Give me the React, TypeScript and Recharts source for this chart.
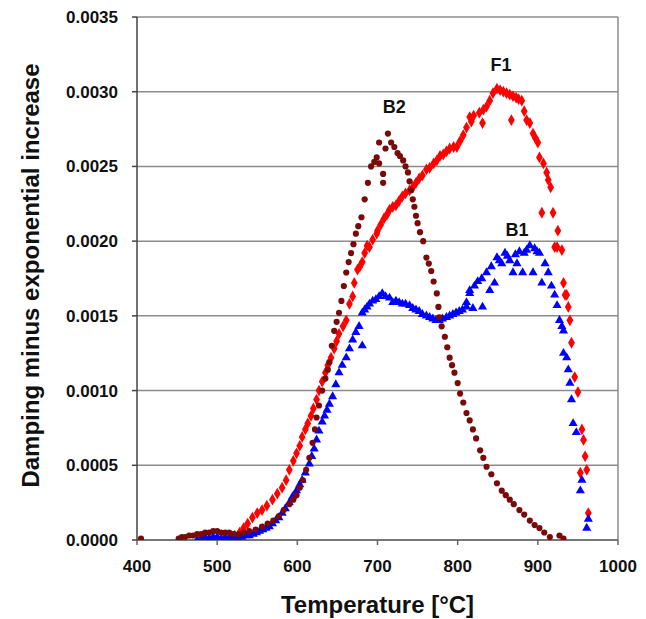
import {
  ScatterChart,
  Scatter,
  XAxis,
  YAxis,
  CartesianGrid,
  ReferenceLine,
  ReferenceDot,
  Label,
  Symbols,
} from "recharts";

// temperature [°C], damping
const b2Points = [
  [405, 0.00001], [452, 0.00001], [456, 0.00002], [460, 0.00002], [465, 0.00003],
  [470, 0.00003], [475, 0.00004], [480, 0.00004], [485, 0.00005], [490, 0.00005],
  [495, 0.00006], [500, 0.00006], [505, 0.00005], [510, 0.00005], [515, 0.00005],
  [520, 0.00004], [527, 0.00004], [533, 0.00005], [540, 0.00006], [548, 0.00007],
  [556, 0.00009], [563, 0.00011], [570, 0.00013], [577, 0.00016], [583, 0.0002],
  [590, 0.00024], [595, 0.00027], [599, 0.0003], [603, 0.00035], [607, 0.0004],
  [611, 0.00047], [615, 0.00055], [619, 0.00065], [622, 0.00074], [624, 0.00082],
  [627, 0.0009], [631, 0.001], [635, 0.00108], [638, 0.00114], [640, 0.00119],
  [643, 0.0013], [646, 0.0014], [649, 0.00146], [652, 0.00152], [655, 0.0016],
  [658, 0.0017], [661, 0.00179], [664, 0.00186], [667, 0.00192], [670, 0.00198],
  [673, 0.00205], [676, 0.0021], [680, 0.00216], [684, 0.00228], [688, 0.00239],
  [692, 0.0025], [696, 0.00253], [699, 0.00256], [702, 0.00266], [702, 0.00252],
  [707, 0.00245], [707, 0.00239], [710, 0.00262], [713, 0.00272], [717, 0.00266],
  [721, 0.00263], [725, 0.00259], [728, 0.00257], [732, 0.00254], [735, 0.0025],
  [738, 0.00246], [740, 0.0024], [742, 0.00234], [744, 0.00228], [746, 0.00223],
  [748, 0.00217], [750, 0.00212], [753, 0.00206], [757, 0.002], [761, 0.00189],
  [764, 0.00185], [767, 0.0018], [770, 0.00173], [774, 0.00165], [776, 0.00156],
  [777, 0.00149], [780, 0.00143], [784, 0.00136], [787, 0.00129], [790, 0.00122],
  [793, 0.00117], [796, 0.00112], [800, 0.00105], [803, 0.00098], [807, 0.00092],
  [811, 0.00085], [815, 0.0008], [819, 0.00074], [823, 0.00068], [828, 0.0006],
  [832, 0.00055], [836, 0.00049], [842, 0.00044], [849, 0.00038], [855, 0.00033],
  [860, 0.0003], [865, 0.00027], [870, 0.00024], [877, 0.0002], [883, 0.00017],
  [890, 0.00013], [896, 0.0001], [902, 0.00008], [908, 0.00005], [915, 0.00002],
  [927, 0.00003], [932, 0.00001],
];

const f1Points = [
  [515, 0.00001], [522, 0.00003], [528, 0.00005], [533, 0.00008], [538, 0.00011],
  [544, 0.00015], [550, 0.00018], [556, 0.0002], [562, 0.00023], [569, 0.00027],
  [575, 0.00031], [581, 0.00035], [586, 0.0004], [590, 0.00047], [595, 0.00053],
  [599, 0.00058], [603, 0.00063], [606, 0.00069], [610, 0.00074], [613, 0.00078],
  [617, 0.00083], [620, 0.00088], [624, 0.00094], [627, 0.001], [631, 0.00106],
  [635, 0.00112], [638, 0.00117], [642, 0.00122], [646, 0.00128], [649, 0.00133],
  [652, 0.00138], [657, 0.00143], [661, 0.00147], [665, 0.00158], [669, 0.00163],
  [671, 0.00172], [675, 0.00181], [678, 0.00183], [681, 0.00186], [684, 0.00192],
  [687, 0.00197], [690, 0.00196], [694, 0.00201], [699, 0.00205], [700, 0.00207],
  [704, 0.00211], [708, 0.00215], [712, 0.00218], [715, 0.00221], [719, 0.00223],
  [723, 0.00224], [727, 0.00227], [731, 0.0023], [735, 0.00232], [740, 0.00234],
  [744, 0.00236], [748, 0.00239], [752, 0.00242], [756, 0.00244], [761, 0.00248],
  [765, 0.00249], [770, 0.00252], [774, 0.00254], [778, 0.00257], [782, 0.00258],
  [786, 0.0026], [790, 0.00262], [795, 0.00263], [799, 0.00263], [803, 0.00267],
  [807, 0.00271], [811, 0.00276], [815, 0.00283], [817, 0.0028], [820, 0.00284],
  [827, 0.00286], [831, 0.00279], [832, 0.00288], [836, 0.0029], [840, 0.00294],
  [844, 0.00299], [849, 0.00302], [853, 0.00301], [857, 0.003], [861, 0.00299],
  [865, 0.00298], [867, 0.00281], [869, 0.00297], [873, 0.00296], [876, 0.00295],
  [880, 0.00294], [883, 0.00287], [886, 0.00281], [890, 0.00279], [894, 0.00272],
  [897, 0.00269], [900, 0.00266], [902, 0.00256], [905, 0.00219], [907, 0.00252],
  [911, 0.00246], [913, 0.00241], [916, 0.00236], [919, 0.00219], [921, 0.00196],
  [924, 0.00196], [925, 0.00207], [930, 0.00194], [932, 0.00172], [934, 0.00164],
  [936, 0.00164], [938, 0.00156], [940, 0.00147], [942, 0.00132], [946, 0.00109],
  [950, 0.00099], [953, 0.00045], [955, 0.00074], [957, 0.00067], [959, 0.00056],
  [961, 0.00047], [963, 0.00018],
];

const b1Points = [
  [475, 0.0], [480, 0.00001], [485, 0.00002], [490, 0.00001], [495, 0.00002],
  [500, 0.00002], [505, 0.00001], [510, 0.00002], [515, 0.00001], [520, 0.00002],
  [525, 0.00001], [531, 0.00002], [536, 0.00003], [540, 0.00003], [545, 0.00004],
  [549, 0.00005], [553, 0.00006], [557, 0.00007], [561, 0.00008], [565, 0.00009],
  [569, 0.00011], [573, 0.00013], [577, 0.00015], [581, 0.00018], [585, 0.00021],
  [590, 0.00025], [594, 0.00029], [599, 0.00033], [603, 0.00037], [606, 0.0004],
  [610, 0.00045], [615, 0.00051], [618, 0.00056], [621, 0.00061], [624, 0.00067],
  [627, 0.00073], [631, 0.00079], [634, 0.00083], [637, 0.00087], [640, 0.00091],
  [644, 0.00096], [648, 0.00104], [652, 0.00112], [656, 0.00117], [661, 0.00122],
  [665, 0.00128], [669, 0.00134], [673, 0.00139], [677, 0.00143], [681, 0.00152],
  [681, 0.0013], [684, 0.00154], [687, 0.00156], [690, 0.00158], [694, 0.0016],
  [698, 0.00161], [702, 0.00163], [706, 0.00165], [710, 0.00163], [715, 0.00162],
  [719, 0.00159], [723, 0.0016], [727, 0.00159], [731, 0.00158], [735, 0.00158],
  [740, 0.00157], [744, 0.00155], [748, 0.00154], [752, 0.00153], [756, 0.00151],
  [761, 0.0015], [765, 0.00149], [769, 0.00148], [773, 0.00147], [777, 0.00147],
  [781, 0.00148], [786, 0.00149], [790, 0.0015], [794, 0.00151], [798, 0.00152],
  [802, 0.00153], [806, 0.00154], [811, 0.00156], [811, 0.00159], [815, 0.00165],
  [815, 0.00167], [819, 0.00155], [821, 0.0017], [825, 0.00173], [830, 0.00175],
  [831, 0.00156], [836, 0.00179], [840, 0.00167], [842, 0.00183], [846, 0.00172],
  [849, 0.00189], [852, 0.00187], [855, 0.00185], [859, 0.00192], [862, 0.0019],
  [865, 0.00187], [869, 0.00179], [872, 0.00191], [874, 0.00185], [877, 0.00193],
  [881, 0.00179], [883, 0.00192], [886, 0.00194], [890, 0.00197], [894, 0.00179],
  [896, 0.00195], [899, 0.00193], [902, 0.00192], [905, 0.00172], [909, 0.00185],
  [913, 0.00179], [917, 0.0017], [921, 0.00164], [924, 0.00157], [927, 0.00147],
  [930, 0.00143], [932, 0.00125], [932, 0.0014], [936, 0.00122], [938, 0.00114],
  [940, 0.00105], [942, 0.00094], [944, 0.00078], [948, 0.00072], [953, 0.00033],
  [955, 0.0004], [961, 0.00008], [963, 0.00014],
];

const xTicks = [400, 500, 600, 700, 800, 900, 1000];
const yTicks = [0, 0.0005, 0.001, 0.0015, 0.002, 0.0025, 0.003, 0.0035];

const seriesLabels = [
  { name: "B2", x: 721, y: 0.0029 },
  { name: "F1", x: 854, y: 0.00318 },
  { name: "B1", x: 874, y: 0.00208 },
];

const toXY = (pts: number[][]) => pts.map(([x, y]) => ({ x, y }));

const FONT = '"Liberation Sans", Arial, sans-serif';

// small markers like the original Excel plot
const marker = (type: any, size: number, fill: string) => (props: any) => (
  <Symbols cx={props.cx} cy={props.cy} type={type} size={size} fill={fill} />
);

export default function App() {
  const tickStyle = {
    fontFamily: FONT,
    fontSize: 17,
    fontWeight: "bold",
    fill: "#111",
  };

  return (
    <div style={{ position: "absolute", left: 0, top: 0, background: "#fff" }}>
      <ScatterChart
        width={646}
        height={619}
        margin={{ top: 17, right: 28, bottom: 0, left: 0 }}
      >
        <CartesianGrid
          vertical={false}
          stroke="#8c8c8c"
          strokeWidth={1.5}
        />
        <XAxis
          type="number"
          dataKey="x"
          domain={[400, 1000]}
          ticks={xTicks}
          height={79}
          tickSize={5}
          tickMargin={15}
          tick={tickStyle}
          axisLine={{ stroke: "#666", strokeWidth: 1.5 }}
          tickLine={{ stroke: "#666", strokeWidth: 1.5 }}
          allowDataOverflow
        >
          <Label
            content={({ viewBox }: any) => (
              <text
                x={viewBox.x + viewBox.width / 2}
                y={viewBox.y + 73}
                textAnchor="middle"
                fontFamily={FONT}
                fontSize={24}
                fontWeight="bold"
                fill="#111"
              >
                Temperature [°C]
              </text>
            )}
          />
        </XAxis>
        <YAxis
          type="number"
          dataKey="y"
          domain={[0, 0.0035]}
          ticks={yTicks}
          width={137}
          tickSize={5}
          tickMargin={14}
          tick={tickStyle}
          tickFormatter={(v: number) => v.toFixed(4)}
          axisLine={{ stroke: "#444", strokeWidth: 1.5 }}
          tickLine={{ stroke: "#444", strokeWidth: 1.5 }}
          allowDataOverflow
        >
          <Label
            content={({ viewBox }: any) => {
              const cx = viewBox.x + 30;
              const cy = viewBox.y + viewBox.height / 2 - 3;
              return (
                <text
                  x={cx}
                  y={cy}
                  transform={`rotate(-90 ${cx} ${cy})`}
                  textAnchor="middle"
                  dominantBaseline="central"
                  fontFamily={FONT}
                  fontSize={24}
                  fontWeight="bold"
                  fill="#111"
                >
                  Damping minus exponential increase
                </text>
              );
            }}
          />
        </YAxis>
        <ReferenceLine x={1000} stroke="#8c8c8c" strokeWidth={1.5} />
        <Scatter
          name="F1"
          data={toXY(f1Points)}
          fill="#ff0000"
          shape={marker("diamond", 40, "#ff0000")}
          isAnimationActive={false}
        />
        <Scatter
          name="B1"
          data={toXY(b1Points)}
          fill="#0000ff"
          shape={marker("triangle", 36, "#0000ff")}
          isAnimationActive={false}
        />
        <Scatter
          name="B2"
          data={toXY(b2Points)}
          fill="#7a0a0a"
          shape={marker("circle", 30, "#7a0a0a")}
          isAnimationActive={false}
        />
        {seriesLabels.map((l) => (
          <ReferenceDot
            key={l.name}
            x={l.x}
            y={l.y}
            r={0}
            fill="none"
            stroke="none"
            label={{
              value: l.name,
              position: "center",
              fontFamily: FONT,
              fontSize: 18,
              fontWeight: "bold",
              fill: "#111",
            }}
          />
        ))}
      </ScatterChart>
    </div>
  );
}
